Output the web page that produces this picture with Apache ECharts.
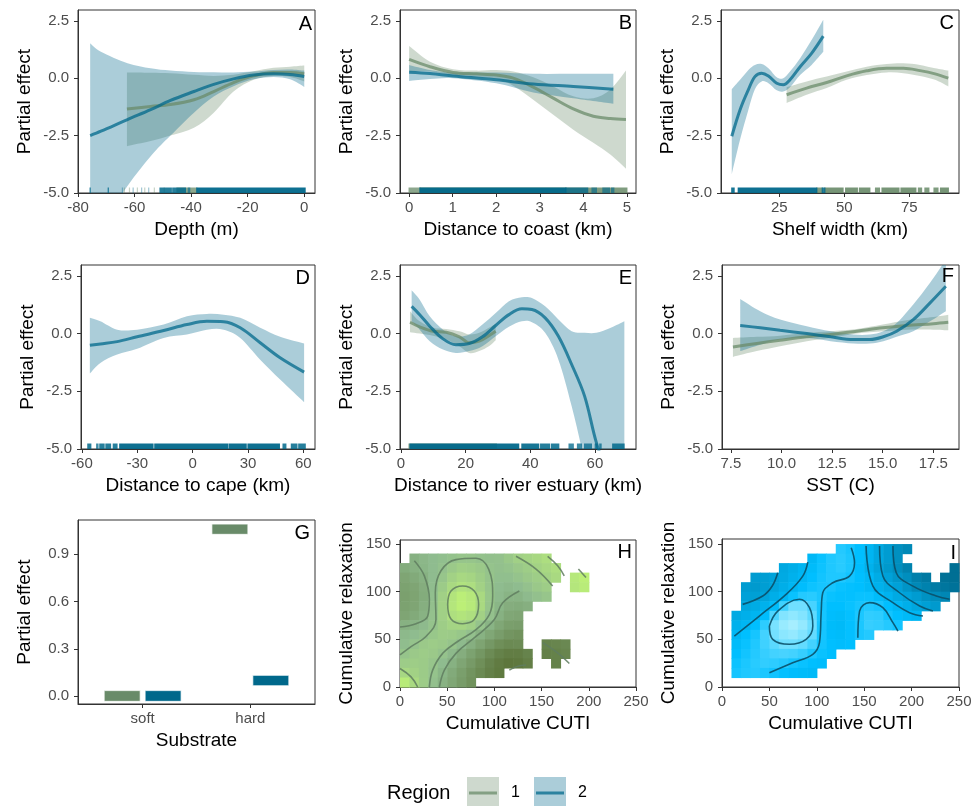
<!DOCTYPE html>
<html>
<head>
<meta charset="utf-8">
<title>Partial effects by region</title>
<script src="https://cdn.jsdelivr.net/npm/echarts@6.0.0/dist/echarts.min.js"></script>
<style>
  html, body { margin: 0; padding: 0; background: #fff; }
  #main { width: 974px; height: 806px; }
</style>
</head>
<body>
<div id="main"></div>
<script>
const _ = null;

// ---- A: depth (m) ----
const depthX1 = [-62.7, -54.3, -47.3, -39, -32, -25, -17.9, -10.9, -5, 0];
const depthFit1 = [-1.34, -1.23, -1.15, -0.94, -0.58, -0.19, 0.1, 0.25, 0.25, 0.19];
const depthLo1 = [-2.96, -2.74, -2.5, -2.16, -1.5, -0.58, -0.07, 0.1, 0.05, -0.14];
const depthHi1 = [0.25, 0.24, 0.22, 0.15, 0.1, 0.15, 0.3, 0.45, 0.5, 0.55];
const depthX2 = [-75.7, -71.9, -62.5, -54.3, -47.3, -39, -32, -25, -17.9, -10.9, -5, 0];
const depthFit2 = [-2.5, -2.31, -1.8, -1.37, -0.97, -0.58, -0.27, -0.03, 0.14, 0.19, 0.16, 0.07];
const depthLo2 = [-7.5, -6.5, -4.7, -3.4, -2.5, -1.5, -0.8, -0.35, -0.05, 0.05, -0.05, -0.38];
const depthHi2 = [1.52, 1.15, 0.65, 0.43, 0.33, 0.27, 0.26, 0.25, 0.29, 0.36, 0.38, 0.33];
const depthRug1 = [[-63.6, -63.6, 1], [-61.8, -61.8, 1], [-59, -59, 1], [-56.4, -56.4, 1], [-53, -53, 1], [-49.5, -49.5, 1], [-45, -38, 3]];
const depthRug2 = [[-75.7, -75.7, 4], [-69.3, -69.3, 4], [-64.3, -64.3, 1], [-60.5, -60.5, 1], [-57.5, -57.5, 1], [-55, -55, 1],
  [-51, -47, 4], [-46.5, -42, 4], [-41, -40.5, 2], [-38, 0.3, 6]];

// ---- B: distance to coast (km) ----
const coastX1 = [0, 0.48, 1.01, 1.55, 2.0, 2.39, 2.85, 3.31, 3.77, 4.23, 4.62, 4.98];
const coastFit1 = [0.82, 0.5, 0.25, 0.19, 0.14, 0, -0.39, -0.87, -1.34, -1.66, -1.76, -1.8];
const coastLo1 = [0.29, 0.29, 0.1, 0.04, -0.04, -0.33, -0.94, -1.59, -2.24, -2.81, -3.32, -3.94];
const coastHi1 = [1.4, 0.72, 0.39, 0.33, 0.36, 0.29, 0.04, -0.36, -0.79, -0.87, -0.5, 0.33];
const coastX2 = [0, 0.48, 1.01, 2.0, 2.85, 3.77, 4.69];
const coastFit2 = [0.26, 0.2, 0.1, -0.07, -0.25, -0.36, -0.48];
const coastLo2 = [-0.12, -0.04, 0, -0.22, -0.62, -0.87, -1.11];
const coastHi2 = [0.58, 0.36, 0.25, 0.25, 0.19, 0.19, 0.19];
const coastRug1 = [[0, 0.25, 3], [0.25, 5.0, 4]];
const coastRug2 = [[0.25, 3.6, 6], [3.6, 4.1, 3], [4.2, 4.3, 2], [4.45, 4.6, 2], [4.65, 4.7, 2]];

// ---- C: shelf width (km) ----
const shelfX1 = [27.8, 35.5, 43.2, 50.9, 58.6, 66.3, 72.7, 79.1, 84.9, 90];
const shelfFit1 = [-0.72, -0.43, -0.19, 0.1, 0.32, 0.43, 0.43, 0.33, 0.19, 0];
const shelfLo1 = [-1.08, -0.72, -0.43, -0.07, 0.14, 0.25, 0.22, 0.1, -0.07, -0.36];
const shelfHi1 = [-0.39, -0.14, 0.07, 0.29, 0.5, 0.62, 0.65, 0.58, 0.43, 0.33];
const shelfX2 = [6.7, 9.9, 13.1, 15.6, 18.2, 20.8, 24, 26.5, 29.1, 33, 37.4, 41.9];
const shelfFit2 = [-2.53, -1.37, -0.5, 0.07, 0.22, 0.1, -0.22, -0.29, -0.07, 0.5, 1.08, 1.83];
const shelfLo2 = [-4.18, -2.67, -1.37, -0.48, -0.14, -0.22, -0.53, -0.58, -0.39, 0.14, 0.58, 1.15];
const shelfHi2 = [-0.48, -0.07, 0.36, 0.58, 0.62, 0.43, 0.04, 0, 0.29, 0.87, 1.66, 2.55];
const shelfRug1 = [[39.4, 41.5, 4], [42.5, 49.5, 5], [50.5, 55, 5], [55.8, 59.8, 5], [62, 63.5, 4], [64.5, 71, 5],
  [71.8, 77.5, 5], [78.5, 79.7, 4], [81, 82.5, 4], [84.5, 86, 4], [87, 90, 5]];
const shelfRug2 = [[6.7, 7.6, 5], [9.2, 39.4, 6], [41.5, 42.5, 4]];

// ---- D: distance to cape (km), region 2 only ----
const capeX2 = [-55.7, -50, -40.9, -30.1, -15.7, -3.1, 7.7, 16.8, 25.8, 36.6, 47.4, 60.4];
const capeFit2 = [-0.51, -0.45, -0.35, -0.14, 0.13, 0.39, 0.53, 0.51, 0.25, -0.4, -1.05, -1.67];
const capeLo2 = [-1.73, -1.27, -0.91, -0.66, -0.19, -0.04, 0.17, 0.17, -0.19, -1.13, -1.99, -2.97];
const capeHi2 = [0.68, 0.53, 0.17, 0.17, 0.39, 0.75, 0.85, 0.82, 0.68, 0.25, -0.14, -0.43];
const capeRug2 = [[-56.8, -55.2, 4], [-52, -51.3, 3], [-50.3, -48, 4], [-47, -44.5, 4], [-43, -41, 4], [-39.5, -21.5, 6],
  [-20.5, 19, 6], [19.8, 29, 6], [30, 47, 6], [49, 50.5, 4], [53.5, 56.5, 4], [57.5, 61, 4]];

// ---- E: distance to river estuary (km) ----
const riverX1 = [2.8, 5.8, 9.9, 14, 18.1, 21.1, 24.2, 27.2, 29.3];
const riverFit1 = [0.49, 0.29, 0.1, 0.06, -0.14, -0.4, -0.33, -0.09, 0.1];
const riverLo1 = [0.06, 0, -0.09, -0.26, -0.55, -0.84, -0.76, -0.55, -0.29];
const riverHi1 = [0.97, 0.53, 0.25, 0.2, 0.1, -0.04, 0.03, 0.25, 0.43];
const riverX2 = [3.3, 5.8, 8.9, 13, 17, 21.1, 25.2, 29.3, 33.4, 37.4, 40.5, 44.6, 48.7, 52.8, 56.8, 60.4, 64.9, 69.1];
const riverFit2 = [1.18, 0.82, 0.32, -0.23, -0.48, -0.43, -0.14, 0.35, 0.82, 1.07, 1.04, 0.68, -0.12, -1.34, -2.71, -4.7, -6.6, -8.6];
const riverLo2 = [0.53, 0.17, -0.33, -0.69, -0.84, -0.76, -0.55, -0.12, 0.29, 0.53, 0.49, 0.03, -1.13, -3.15, -5.6, -8.5, -12, -15];
const riverHi2 = [1.88, 1.47, 0.75, 0.17, -0.12, -0.04, 0.39, 0.89, 1.4, 1.57, 1.54, 1.18, 0.61, 0.1, 0.03, 0.03, 0.25, 0.53];
const riverRug1 = [[2.5, 29.5, 3]];
const riverRug2 = [[2.8, 36.4, 6], [37.4, 42.6, 5], [43.2, 46, 4], [46.6, 48.8, 4], [52, 53.3, 3], [54.6, 55.8, 3],
  [56.8, 58.9, 3], [60.1, 60.7, 3], [61.5, 61.9, 3], [65.5, 69, 4]];

// ---- F: SST (C) ----
const sstX1 = [7.6, 8.78, 9.93, 11.25, 12.43, 13.72, 15, 16.18, 17.5, 18.24];
const sstFit1 = [-0.58, -0.43, -0.29, -0.14, -0.04, 0.1, 0.25, 0.35, 0.43, 0.49];
const sstLo1 = [-1.01, -0.76, -0.55, -0.33, -0.19, 0, 0.1, 0.17, 0.17, 0.14];
const sstHi1 = [-0.19, -0.14, -0.09, 0.03, 0.1, 0.2, 0.39, 0.58, 0.72, 0.82];
const sstX2 = [7.96, 8.95, 9.93, 11.25, 12.43, 13.55, 14.37, 15.03, 15.69, 16.51, 17.34, 18.12];
const sstFit2 = [0.35, 0.25, 0.14, 0, -0.14, -0.26, -0.26, -0.14, 0.1, 0.6, 1.33, 2.05];
const sstLo2 = [-0.76, -0.48, -0.26, -0.19, -0.33, -0.43, -0.43, -0.33, -0.14, 0.1, 0.53, 0.97];
const sstHi2 = [1.5, 0.97, 0.61, 0.32, 0.1, -0.04, -0.04, 0.1, 0.46, 1.26, 2.2, 3.2];

// ---- G: substrate ----
const substrate = ['soft', 'hard'];
const subEst1 = [0, 1.06], subLo1 = [-0.034, 1.027], subHi1 = [0.034, 1.092];
const subEst2 = [0, 0.098], subLo2 = [-0.034, 0.065], subHi2 = [0.034, 0.131];

// ---- H: cumulative CUTI x relaxation, region 1 (cell centres, 10-unit cells) ----
const hX = [5, 15, 25, 35, 45, 55, 65, 75, 85, 95, 105, 115, 125, 135, 145, 155, 165, 175, 185, 195];
const hY = [135, 125, 115, 105, 95, 85, 75, 65, 55, 45, 35, 25, 15, 5];
const hGrid = [
  [_, 4.3, 4.7, 5, 5.2, 5.45, 5.7, 5.7, 5.45, 5.3, 5.4, 5.9, 6.5, 6.8, 7.1, 7.5, _, _, _, _],
  [4, 4.3, 4.6, 5, 5.4, 6, 6.4, 6.3, 6, 5.5, 5.3, 5.5, 5.9, 6.3, 6.7, 7.1, 7.5, _, _, _],
  [3.6, 3.9, 4.3, 5, 5.7, 6.6, 7.1, 6.9, 6.3, 5.6, 5.2, 5.2, 5.5, 5.9, 6.3, 6.7, 7.2, _, 8.3, 8.8],
  [3.4, 3.6, 4.1, 5.1, 6.1, 7.2, 7.8, 7.5, 6.6, 5.7, 5, 4.8, 5, 5.4, 5.9, 6.3, _, _, 8.1, 8.6],
  [3.3, 3.5, 4.0, 5.2, 6.5, 8, 8.7, 8.3, 7.2, 5.8, 4.9, 4.5, 4.5, 4.9, 5.3, 5.7, _, _, _, _],
  [3.4, 3.6, 4.2, 5.3, 6.6, 8.1, 8.8, 8.4, 7.2, 5.7, 4.6, 4.1, 4, 4.2, _, _, _, _, _, _],
  [3.6, 3.9, 4.4, 5.4, 6.5, 7.6, 8, 7.6, 6.6, 5.4, 4.3, 3.7, 3.6, _, _, _, _, _, _, _],
  [4.3, 4.5, 4.9, 5.5, 6.3, 6.8, 6.9, 6.4, 5.5, 4.5, 3.7, 3.2, 3.1, _, _, _, _, _, _, _],
  [4.8, 5, 5.3, 5.8, 6.2, 6.1, 5.8, 5.3, 4.4, 3.7, 3.1, 2.6, 2.4, _, _, _, _, _, _, _],
  [5.1, 5.5, 6, 6.2, 6, 5.6, 4.9, 4.2, 3.5, 2.8, 2.2, 1.9, 2, _, _, 1.5, 1.6, 1.8, _, _],
  [5.6, 6, 6.2, 6, 5.5, 4.8, 4.1, 3.4, 2.7, 2, 1.4, 1.1, 1.1, 1.5, _, 1.3, 1.4, 1.6, _, _],
  [6.2, 6.3, 6.1, 5.7, 5, 4.3, 3.6, 2.9, 2.2, 1.5, 1, 0.7, 0.8, 1.2, _, _, 1.4, _, _, _],
  [7, 6.6, 6.1, 5.5, 4.6, 3.9, 3.2, 2.5, 1.9, 1.3, 0.9, _, _, _, _, _, _, _, _, _],
  [8.5, 7.2, 6.2, 5.3, 4.4, 3.7, 3, 2.4, _, _, _, _, _, _, _, _, _, _, _, _]
];
const hContours = [
  [[15.2, 132.5], [25.8, 116.6], [31.1, 91.9], [29.3, 74.2], [17, 66.4], [0, 62.9]],
  [[50.5, 86.6], [54, 100.7], [66.4, 106], [78.7, 100.7], [83.3, 86.6], [78.7, 70.7], [66.4, 66.4], [54, 71.4], [50.5, 86.6]],
  [[0, 33.6], [11.7, 42.4], [27.5, 53], [38.1, 70.7], [37.4, 98.9], [43.4, 121.9], [59.3, 133.6], [80.5, 135], [93.9, 123.7],
   [98.2, 95.4], [94.6, 76], [80.5, 60.1], [61.1, 47.7], [45.2, 35.3], [34.6, 17.7], [31.1, 0]],
  [[126.4, 100.7], [108.8, 88.3], [99.9, 70.7], [80.5, 53], [59.3, 35.3], [47, 17.7], [41.7, 0]],
  [[122.9, 137.1], [144.1, 123.7], [161.7, 106]],
  [[156.4, 137], [167, 127.2], [174, 116.6]],
  [[0, 19.4], [11.7, 10.6], [18.7, 0]],
  [[151, 46.6], [165.3, 37.1], [179.4, 24.7]],
  [[189, 123.7], [197, 114.8]],
  [[115.8, 17.7], [124, 21.5], [133.5, 23]]
];

// ---- I: cumulative CUTI x relaxation, region 2 ----
const iX = [15, 25, 35, 45, 55, 65, 75, 85, 95, 105, 115, 125, 135, 145, 155, 165, 175, 185, 195, 205, 215, 225, 235, 245];
const iY = [145, 135, 125, 115, 105, 95, 85, 75, 65, 55, 45, 35, 25, 15];
const iGrid = [
  [_, _, _, _, _, _, _, _, _, _, _, 5.8, 5.5, 5, 4.45, 3.7, 3, 2.3, 1.9, _, _, _, _, _],
  [_, _, _, _, _, _, _, _, 4.6, 5.2, 5.7, 5.9, 5.6, 5, 4.45, 3.7, 3, 2.3, _, _, _, _, _, _],
  [_, _, _, _, _, 3.7, 4, 4.4, 4.8, 5.3, 5.7, 5.9, 5.6, 4.9, 4.2, 3.5, 2.8, 2.2, 1.5, _, _, _, _, 0.4],
  [_, _, 3, 3.1, 3.4, 3.8, 4.2, 4.55, 5, 5.4, 5.7, 5.7, 5.4, 5, 4.6, 3.9, 3.3, 2.7, 2.2, 1.4, 1, _, 0.5, 0.4],
  [_, 3, 2.9, 3.1, 3.55, 4, 4.5, 4.9, 5.3, 5.5, 5.5, 5.2, 5.1, 5, 4.7, 4.2, 3.8, 3.3, 2.6, 1.9, 1.5, 1.1, 0.8, 0.6],
  [_, 3.3, 3.2, 3.45, 4, 4.5, 5.2, 5.8, 5.9, 5.55, 5.2, 5.1, 5.1, 5.2, 5.2, 4.8, 4.3, 3.8, 3.4, 3, 2.4, 2.1, 1.8, _],
  [_, 3.6, 3.9, 4.2, 4.8, 6.4, 7.5, 7.5, 6.6, 5.5, 5, 5, 5.2, 5.5, 5.7, 5.5, 5, 4.55, 4.1, 3.6, 3.2, 2.9, _, _],
  [3.8, 4.1, 4.4, 4.9, 6.7, 7.9, 8.2, 7.9, 7.1, 5.5, 4.9, 4.8, 5.1, 5.6, 6.1, 6, 5.4, 5, 4.7, 4.5, _, _, _, _],
  [4.2, 4.5, 5, 6, 7.7, 8.4, 8.7, 8.3, 7.5, 5.5, 4.8, 4.7, 5.1, 5.6, 6.2, 6.1, 5.8, 5.4, _, _, _, _, _, _],
  [4.55, 5, 5.5, 6.5, 7.6, 8.1, 8.3, 7.9, 7.2, 5.5, 4.9, 4.8, 5.1, 5.55, 5.8, _, _, _, _, _, _, _, _, _],
  [4.8, 5.2, 5.7, 6.4, 7, 7.5, 7.5, 7.2, 6.5, 5.4, 5, 4.9, 5, _, _, _, _, _, _, _, _, _, _, _],
  [5, 5.4, 5.8, 6.2, 6.5, 6.6, 6.5, 6.2, 5.6, 5.2, 5, _, _, _, _, _, _, _, _, _, _, _, _, _],
  [5.3, 5.6, 5.9, 6.1, 6, 5.8, 5.45, 5.2, 5, 4.9, _, _, _, _, _, _, _, _, _, _, _, _, _, _],
  [5.5, 5.7, 5.8, 5.6, 5.35, 5.1, 4.9, 4.8, 4.7, _, _, _, _, _, _, _, _, _, _, _, _, _, _, _]
];
const iContours = [
  [[21.8, 86.7], [43, 95.5], [53, 106], [58.8, 119.9]],
  [[13, 53.5], [39.4, 74.5], [67.6, 97.2], [85.2, 116.4], [90.5, 131.1]],
  [[50, 64], [58.8, 79.7], [81.7, 92], [92.3, 83.2], [95.8, 64], [88.7, 50], [71.1, 44.8], [53.5, 50], [50, 64]],
  [[50, 15], [74.6, 25.5], [95.8, 34.3], [102.8, 46.5], [104.6, 78], [106.3, 98.9], [116.9, 109.4], [134.5, 116.4], [139.8, 130.4], [136.3, 146.2]],
  [[143.3, 51.7], [145.1, 79.7], [155.6, 88.5], [169.7, 83.2], [180.3, 67.5], [185.6, 58.7]],
  [[152, 147.9], [159.2, 105.9], [180.3, 88.5], [197.9, 78], [212, 74.5]],
  [[166.2, 147.9], [169.7, 116.4], [187.3, 98.9], [208.5, 85], [222.5, 79.7]],
  [[180.3, 147.9], [183.8, 119.9], [201.4, 105.9], [226, 95.5], [240.1, 92]]
];

// ---- styling ----
const FONT = 'Liberation Sans, Arial, Helvetica, sans-serif';
const COL = ['#698B69', '#00688B'];
const LINE = ['rgba(105,139,105,0.75)', 'rgba(0,104,139,0.75)'];
const FILL = ['rgba(105,139,105,0.33)', 'rgba(0,104,139,0.33)'];
const Y_MIN = -5, Y_MAX = 2.97;

const grids = [
  { left: 78, top: 10, width: 237, height: 183 },
  { left: 400, top: 10, width: 236, height: 183 },
  { left: 721, top: 10, width: 238, height: 183 },
  { left: 81, top: 265, width: 234, height: 184 },
  { left: 400, top: 265, width: 236, height: 184 },
  { left: 722, top: 265, width: 237, height: 184 },
  { left: 78, top: 520, width: 237, height: 184 },
  { left: 400, top: 540, width: 236, height: 147 },
  { left: 722, top: 539, width: 237, height: 148 }
].map(g => Object.assign(g, { show: true, borderColor: '#333', borderWidth: 1, backgroundColor: 'transparent', outerBoundsMode: 'none' }));

const xAxes = [], yAxes = [], series = [];

function addX(gi, min, max, ticks, name, fmt) {
  xAxes.push({
    type: 'value', gridIndex: gi, min, max,
    name, nameLocation: 'middle', nameGap: 27,
    nameTextStyle: { color: '#000', fontSize: 19, fontFamily: FONT },
    axisLine: { show: true, onZero: false, lineStyle: { color: '#333', width: 1 } },
    axisTick: { show: true, length: 4, lineStyle: { color: '#333' }, customValues: ticks },
    axisLabel: { color: '#4d4d4d', fontSize: 15, fontFamily: FONT, margin: 7, customValues: ticks, formatter: fmt || (v => String(v)) },
    splitLine: { show: false }
  });
}
function addY(gi, min, max, ticks, name, fmt) {
  yAxes.push({
    type: 'value', gridIndex: gi, min, max,
    name, nameLocation: 'middle', nameGap: 44,
    nameTextStyle: { color: '#000', fontSize: 19, fontFamily: FONT },
    axisLine: { show: true, onZero: false, lineStyle: { color: '#333', width: 1 } },
    axisTick: { show: true, length: 4, lineStyle: { color: '#333' }, customValues: ticks },
    axisLabel: { color: '#4d4d4d', fontSize: 15, fontFamily: FONT, margin: 9, customValues: ticks, formatter: fmt || (v => String(v)) },
    splitLine: { show: false }
  });
}

// Catmull-Rom through pixel points -> cubic bezier path text
function curve(p, move) {
  let d = (move ? 'M' : 'L') + p[0][0] + ',' + p[0][1];
  for (let k = 0; k < p.length - 1; k++) {
    const p0 = p[k - 1] || p[k], p1 = p[k], p2 = p[k + 1], p3 = p[k + 2] || p2;
    const c1 = [p1[0] + (p2[0] - p0[0]) / 6, p1[1] + (p2[1] - p0[1]) / 6];
    const c2 = [p2[0] - (p3[0] - p1[0]) / 6, p2[1] - (p3[1] - p1[1]) / 6];
    d += ' C' + c1[0] + ',' + c1[1] + ' ' + c2[0] + ',' + c2[1] + ' ' + p2[0] + ',' + p2[1];
  }
  return d;
}

function addRibbon(gi, xs, lo, hi, r) {
  series.push({
    type: 'custom', xAxisIndex: gi, yAxisIndex: gi, silent: true, clip: true, z: 1,
    data: xs.map((x, k) => [x, lo[k], hi[k]]),
    renderItem(params, api) {
      if (params.dataIndex !== 0) return null;
      const up = xs.map((x, k) => api.coord([x, hi[k]]));
      const dn = xs.map((x, k) => api.coord([x, lo[k]])).reverse();
      const cs = params.coordSys;
      return {
        type: 'path',
        shape: { pathData: curve(up, true) + ' ' + curve(dn, false) + ' Z' },
        style: { fill: FILL[r], stroke: null },
        clipPath: { type: 'rect', shape: { x: cs.x, y: cs.y, width: cs.width, height: cs.height } }
      };
    }
  });
}
function addFit(gi, xs, fit, r) {
  series.push({
    type: 'line', xAxisIndex: gi, yAxisIndex: gi, silent: true, clip: true, z: 3,
    data: xs.map((x, k) => [x, fit[k]]),
    smooth: 0.35, symbol: 'none', showSymbol: false,
    lineStyle: { color: LINE[r], width: 3, cap: 'butt' }
  });
}
function addRug(gi, spans, r) {
  series.push({
    type: 'custom', xAxisIndex: gi, yAxisIndex: gi, silent: true, z: 4,
    data: spans,
    renderItem(params, api) {
      const a = api.coord([api.value(0), Y_MIN]);
      const b = api.coord([api.value(1), Y_MIN]);
      return {
        type: 'rect',
        shape: { x: a[0] - 0.6, y: a[1] - 5.5, width: Math.max(b[0] - a[0], 0) + 1.2, height: 5.5 },
        style: { fill: COL[r], opacity: 1 - Math.pow(0.62, api.value(2)) }
      };
    }
  });
}

const gamPanels = [
  { min: -80, max: 3.8, ticks: [-80, -60, -40, -20, 0], name: 'Depth (m)',
    reg: [[depthX1, depthFit1, depthLo1, depthHi1], [depthX2, depthFit2, depthLo2, depthHi2]], rug: [depthRug1, depthRug2] },
  { min: -0.21, max: 5.21, ticks: [0, 1, 2, 3, 4, 5], name: 'Distance to coast (km)',
    reg: [[coastX1, coastFit1, coastLo1, coastHi1], [coastX2, coastFit2, coastLo2, coastHi2]], rug: [coastRug1, coastRug2] },
  { min: 2.56, max: 94.1, ticks: [25, 50, 75], name: 'Shelf width (km)',
    reg: [[shelfX1, shelfFit1, shelfLo1, shelfHi1], [shelfX2, shelfFit2, shelfLo2, shelfHi2]], rug: [shelfRug1, shelfRug2] },
  { min: -60.5, max: 66.3, ticks: [-60, -30, 0, 30, 60], name: 'Distance to cape (km)',
    reg: [null, [capeX2, capeFit2, capeLo2, capeHi2]], rug: [null, capeRug2] },
  { min: -0.3, max: 72.7, ticks: [0, 20, 40, 60], name: 'Distance to river estuary (km)',
    reg: [[riverX1, riverFit1, riverLo1, riverHi1], [riverX2, riverFit2, riverLo2, riverHi2]], rug: [riverRug1, riverRug2] },
  { min: 7.06, max: 18.77, ticks: [7.5, 10, 12.5, 15, 17.5], name: 'SST (C)', fmt: v => v.toFixed(1),
    reg: [[sstX1, sstFit1, sstLo1, sstHi1], [sstX2, sstFit2, sstLo2, sstHi2]], rug: [null, null] }
];

gamPanels.forEach((p, gi) => {
  addX(gi, p.min, p.max, p.ticks, p.name, p.fmt);
  addY(gi, Y_MIN, Y_MAX, [-5, -2.5, 0, 2.5], 'Partial effect', v => v.toFixed(1));
  p.reg.forEach((d, r) => { if (d) addRibbon(gi, d[0], d[2], d[3], r); });
  p.reg.forEach((d, r) => { if (d) addFit(gi, d[0], d[1], r); });
  p.rug.forEach((d, r) => { if (d) addRug(gi, d, r); });
});

// G: crossbars per substrate, dodged by region
addX(6, 0.4, 2.6, [1, 2], 'Substrate', v => substrate[Math.round(v) - 1]);
addY(6, -0.051, 1.118, [0, 0.3, 0.6, 0.9], 'Partial effect', v => v.toFixed(1));
[[subEst1, subLo1, subHi1], [subEst2, subLo2, subHi2]].forEach((d, r) => {
  const off = r === 0 ? -0.19 : 0.19, half = 0.167;
  series.push({
    type: 'custom', xAxisIndex: 6, yAxisIndex: 6, silent: true, z: 2,
    data: substrate.map((s, k) => [k + 1, d[1][k], d[2][k], d[0][k]]),
    renderItem(params, api) {
      const a = api.coord([api.value(0) + off - half, api.value(2)]);
      const b = api.coord([api.value(0) + off + half, api.value(1)]);
      return {
        type: 'rect',
        shape: { x: a[0], y: a[1], width: b[0] - a[0], height: b[1] - a[1] },
        style: { fill: COL[r], stroke: 'rgba(255,255,255,0.75)', lineWidth: 1 }
      };
    }
  });
});

// H and I: surfaces as cells + contour lines
function addSurface(gi, xs, ys, grid, contours, lineColor) {
  const cells = [];
  grid.forEach((row, ri) => row.forEach((v, ci) => { if (v !== null) cells.push([xs[ci], ys[ri], v]); }));
  const idx = series.length;
  series.push({
    type: 'custom', xAxisIndex: gi, yAxisIndex: gi, silent: true, z: 1,
    data: cells,
    renderItem(params, api) {
      const a = api.coord([api.value(0) - 5, api.value(1) + 5]);
      const b = api.coord([api.value(0) + 5, api.value(1) - 5]);
      return {
        type: 'rect',
        shape: { x: a[0], y: a[1], width: b[0] - a[0] + 0.6, height: b[1] - a[1] + 0.6 },
        style: { fill: api.visual('color') }
      };
    }
  });
  contours.forEach(c => series.push({
    type: 'line', xAxisIndex: gi, yAxisIndex: gi, silent: true, z: 3,
    data: c, smooth: 0.4, symbol: 'none', showSymbol: false,
    lineStyle: { color: lineColor, width: 1.6 }
  }));
  return idx;
}
addX(7, 0, 250, [0, 50, 100, 150, 200, 250], 'Cumulative CUTI');
addY(7, 0, 154.2, [0, 50, 100, 150], 'Cumulative relaxation');
const hIdx = addSurface(7, hX, hY, hGrid, hContours, 'rgba(95,125,95,0.85)');
addX(8, 0, 250, [0, 50, 100, 150, 200, 250], 'Cumulative CUTI');
addY(8, 0, 155.3, [0, 50, 100, 150], 'Cumulative relaxation');
const iIdx = addSurface(8, iX, iY, iGrid, iContours, 'rgba(10,80,105,0.9)');

// panel letters and region key
const letters = [['A', 312, 24], ['B', 632, 23], ['C', 954, 23], ['D', 310, 278], ['E', 632, 278], ['F', 954, 276],
  ['G', 310, 533], ['H', 632, 552], ['I', 956, 553]];
const graphics = letters.map(([t, x, y]) => ({
  type: 'text', x, y, silent: true, z: 100,
  style: { text: t, fill: '#000', fontSize: 20, fontFamily: FONT, textAlign: 'right', align: 'right', textVerticalAlign: 'middle', verticalAlign: 'middle' }
}));
graphics.push({ type: 'text', x: 387, y: 793, silent: true,
  style: { text: 'Region', fill: '#000', fontSize: 20, fontFamily: FONT, textVerticalAlign: 'middle', verticalAlign: 'middle' } });
[[467, '1', 511], [534, '2', 578]].forEach(([bx, t, tx], r) => {
  graphics.push({ type: 'rect', silent: true, shape: { x: bx, y: 777, width: 32, height: 32 }, style: { fill: FILL[r] } });
  graphics.push({ type: 'line', silent: true, shape: { x1: bx + 2, y1: 793, x2: bx + 30, y2: 793 }, style: { stroke: LINE[r], lineWidth: 3 } });
  graphics.push({ type: 'text', x: tx, y: 793, silent: true,
    style: { text: t, fill: '#000', fontSize: 16, fontFamily: FONT, textVerticalAlign: 'middle', verticalAlign: 'middle' } });
});

const chart = echarts.init(document.getElementById('main'), null, { renderer: 'canvas' });
chart.setOption({
  animation: false,
  backgroundColor: '#fff',
  textStyle: { fontFamily: FONT },
  grid: grids,
  xAxis: xAxes,
  yAxis: yAxes,
  visualMap: [
    { type: 'continuous', show: false, seriesIndex: hIdx, dimension: 2, min: 0, max: 10,
      inRange: { color: ['#556B2F', '#8FBC8F', '#CAFF70'] } },
    { type: 'continuous', show: false, seriesIndex: iIdx, dimension: 2, min: 0, max: 10,
      inRange: { color: ['#00688B', '#00BFFF', '#E0FFFF'] } }
  ],
  graphic: graphics,
  series
});
</script>
</body>
</html>
